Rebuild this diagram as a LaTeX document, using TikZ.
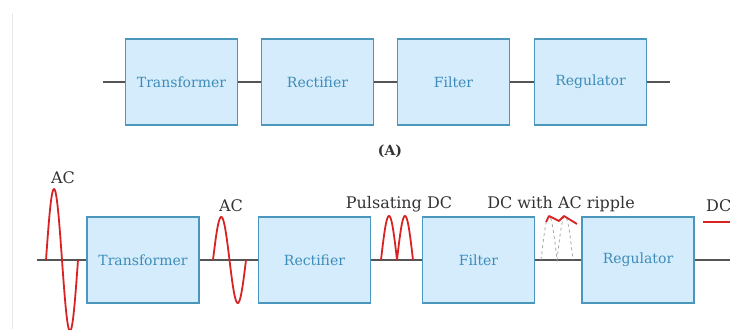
\documentclass[tikz,border=0pt]{standalone}
\usepackage{fontspec}
\setmainfont{DejaVu Serif}
\definecolor{boxfill}{HTML}{D4ECFB}
\definecolor{boxline}{HTML}{4A96BD}
\definecolor{boxtext}{HTML}{3D8CB8}
\definecolor{axisc}{HTML}{555555}
\definecolor{wavec}{HTML}{D92323}
\definecolor{labc}{HTML}{333333}
\tikzset{
  blk/.style={draw=boxline, line width=1.3pt, fill=boxfill, text=boxtext,
    minimum width=112pt, minimum height=86pt, inner sep=0pt,
    font=\fontsize{14}{16}\selectfont},
  wire/.style={draw=axisc, line width=1.8pt},
  wave/.style={draw=wavec, line width=1.8pt, line join=round},
  ghost/.style={draw=gray!70, line width=0.8pt, dashed},
  lab/.style={text=labc, font=\fontsize{16}{18}\selectfont, inner sep=0pt}
}
\begin{document}
\begin{tikzpicture}[x=1pt,y=-1pt]
\useasboundingbox (0,0) rectangle (730,329);
\clip (0,0) rectangle (730,329);
\draw[draw=black!9, line width=0.8pt] (12,13) -- (12,329);
% ---- row A
\node[blk] (ta) at (181.5,82) {Transformer};
\node[blk] (ra) at (317.5,82) {Rectifier};
\node[blk] (fa) at (453.5,82) {Filter};
\node[blk] (ga) at (590.5,82) {Regulator};
\coordinate (ina) at (103,82);
\coordinate (outa) at (670,82);
\draw[wire] (ina) -- (ta.west);
\draw[wire] (ta.east) -- (ra.west);
\draw[wire] (ra.east) -- (fa.west);
\draw[wire] (fa.east) -- (ga.west);
\draw[wire] (ga.east) -- (outa);
\node[text=labc, font=\bfseries\fontsize{14}{16}\selectfont] (capA) at (390,151) {(A)};
% ---- row B
\node[blk] (tb) at (143,260) {Transformer};
\node[blk] (rb) at (314.5,260) {Rectifier};
\node[blk] (fb) at (478.5,260) {Filter};
\node[blk] (gb) at (638,260) {Regulator};
\coordinate (inb) at (37,260);
\coordinate (outb) at (731,260);
\draw[wire] (inb) -- (tb.west);
\draw[wire] (tb.east) -- (rb.west);
\draw[wire] (rb.east) -- (fb.west);
\draw[wire] (fb.east) -- (gb.west);
\draw[wire] (gb.east) -- (outb);
% waves
\draw[wave] plot[domain=46:78, samples=80, smooth] (\x,{260-71*sin(360*(\x-46)/32)});
\draw[wave] plot[domain=213:246, samples=80, smooth] (\x,{260-43*sin(360*(\x-213)/33)});
\draw[wave] plot[domain=381:413, samples=81] (\x,{260-44*abs(sin(180*(\x-381)/16))});
\draw[ghost] plot[domain=541:573, samples=81] (\x,{260-44*abs(sin(180*(\x-541)/16))});
\draw[wave] (546,222) -- (549,216) -- (559,221) -- (564,216) -- (577,224);
\draw[wave] (703,222) -- (731,222);
% labels
\node[lab] (l1) at (63,178) {AC};
\node[lab] (l2) at (231,206) {AC};
\node[lab] (l3) at (399,204) {Pulsating DC};
\node[lab] (l4) at (561,204) {DC with AC ripple};
\node[lab, anchor=west] (l5) at (706,206) {DC};
\end{tikzpicture}
\end{document}
